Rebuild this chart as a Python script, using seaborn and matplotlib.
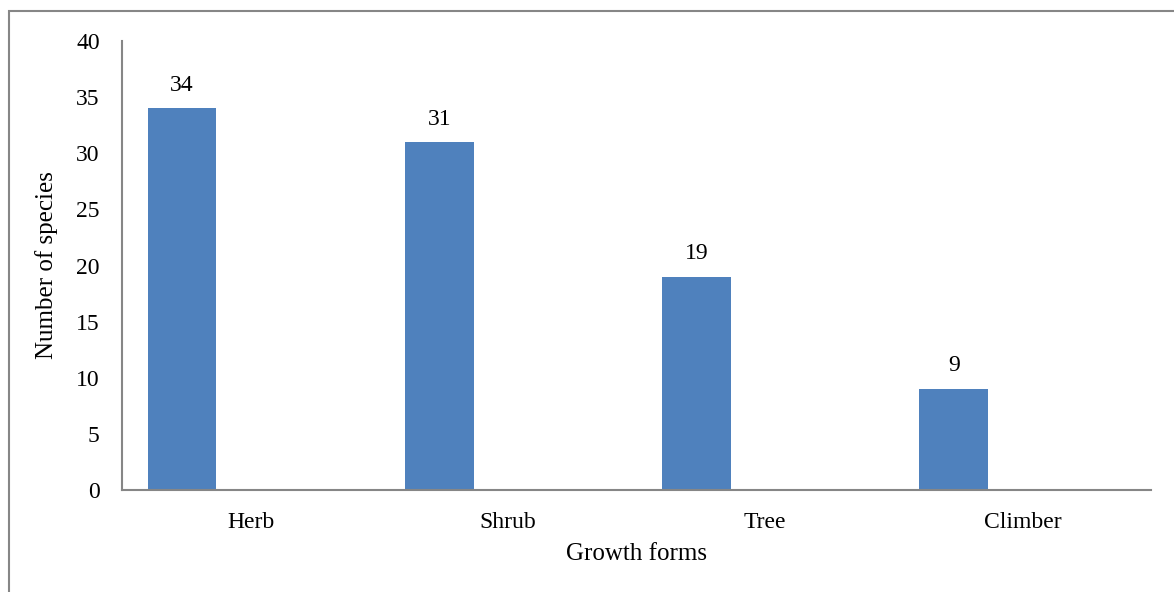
import matplotlib
matplotlib.use("Agg")
import matplotlib.pyplot as plt
import seaborn as sns
import pandas as pd
from matplotlib.patches import Rectangle

categories = ["Herb", "Shrub", "Tree", "Climber"]
species_counts = [34, 31, 19, 9]
series_names = ["Species", "_pad1", "_pad2"]

rows = []
for c, v in zip(categories, species_counts):
    rows.append({"form": c, "series": series_names[0], "value": v})
    rows.append({"form": c, "series": series_names[1], "value": 0})
    rows.append({"form": c, "series": series_names[2], "value": 0})
df = pd.DataFrame(rows)

sns.set_style("white")
plt.rcParams["font.family"] = ["Liberation Serif", "DejaVu Serif"]
plt.rcParams["text.color"] = "black"
plt.rcParams["axes.labelcolor"] = "black"
plt.rcParams["xtick.color"] = "black"
plt.rcParams["ytick.color"] = "black"

fig = plt.figure(figsize=(11.74, 5.92), dpi=100)
ax = fig.add_axes([122/1174, 1-490/592, (1151-122)/1174, (490-41)/592])

sns.barplot(data=df, x="form", y="value", hue="series", hue_order=series_names,
            order=categories, palette=["#4F81BD", "#C0504D", "#9BBB59"],
            width=0.8, linewidth=0, legend=False, ax=ax, errorbar=None,
            saturation=1)

for cont in ax.containers[:1]:
    ax.bar_label(cont, labels=[str(v) for v in species_counts], padding=9,
                 fontsize=17, color="black")

ax.set_ylim(0, 40)
ax.set_yticks(range(0, 41, 5))
ax.set_xlim(-0.5, len(categories) - 0.5)
ax.tick_params(axis="both", length=0, labelsize=17)
ax.tick_params(axis="y", pad=16)
ax.tick_params(axis="x", pad=16)
ax.set_xlabel("Growth forms", fontsize=18, labelpad=7)
ax.set_ylabel("Number of species", fontsize=18, labelpad=13)

for s in ["top", "right"]:
    ax.spines[s].set_visible(False)
for s in ["left", "bottom"]:
    ax.spines[s].set_color("#868686")
    ax.spines[s].set_linewidth(1.5)

fig.patches.append(Rectangle((9/1174, -0.1), 1.2, 1 - 11/592 + 0.1,
                             transform=fig.transFigure, fill=False,
                             edgecolor="#868686", linewidth=1.5))

fig.savefig("out.png", dpi=100)
